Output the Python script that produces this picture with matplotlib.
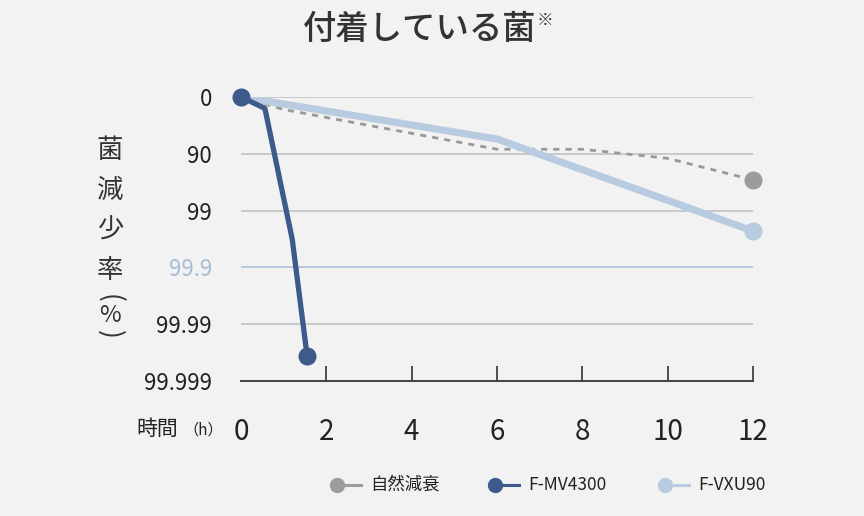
import matplotlib
matplotlib.use("Agg")
import matplotlib.pyplot as plt
from matplotlib.lines import Line2D

plt.rcParams['font.family'] = ['Noto Sans CJK JP', 'DejaVu Sans']

# log reduction: 0 -> 0%, 1 -> 90%, 2 -> 99%, ...
y_ticks = [0, 1, 2, 3, 4, 5]
y_labels = ['0', '90', '99', '99.9', '99.99', '99.999']
x_ticks = [0, 2, 4, 6, 8, 10, 12]

natural_t = [0, 1, 6, 8, 10, 12]
natural_v = [0, 0.22, 0.92, 0.92, 1.08, 1.46]

mv_t = [0, 0.56, 1.2, 1.55]
mv_v = [0, 0.2, 2.5, 4.56]

vxu_t = [0, 6, 12]
vxu_v = [0, 0.74, 2.36]

names = ['自然減衰', 'F-MV4300', 'F-VXU90']
colors = ['#9c9c9c', '#3d5a8b', '#b9cbe0']

bg = '#f2f2f2'
fig = plt.figure(figsize=(8.64, 5.16), dpi=100, facecolor=bg)
ax = fig.add_axes([241/864, 1-381/516, 512/864, 284/516], facecolor=bg)

ax.set_xlim(0, 12)
ax.set_ylim(5, 0)

for v in y_ticks[:-1]:
    c = '#b7c8de' if v == 3 else '#c9c9c9'
    ax.axhline(v, color=c, lw=1.4, zorder=1)

ax.plot(natural_t, natural_v, color='#999999', lw=2.0, ls=(0, (2.2, 2.2)), zorder=2)
ax.plot(vxu_t, vxu_v, color=colors[2], lw=5.2, zorder=3, solid_joinstyle='round')
ax.plot(mv_t, mv_v, color=colors[1], lw=3.8, zorder=4, solid_joinstyle='round')

ax.plot(natural_t[-1], natural_v[-1], 'o', color=colors[0], ms=12, zorder=5, clip_on=False)
ax.plot(vxu_t[-1], vxu_v[-1], 'o', color=colors[2], ms=12, zorder=5, clip_on=False)
ax.plot([mv_t[0], mv_t[-1]], [mv_v[0], mv_v[-1]], 'o', color=colors[1], ms=12, zorder=6, clip_on=False)

for s in ['top', 'right', 'left']:
    ax.spines[s].set_visible(False)
ax.spines['bottom'].set_color('#333333')
ax.spines['bottom'].set_linewidth(1.3)

ax.set_xticks(x_ticks)
ax.set_xticklabels([str(t) for t in x_ticks], fontsize=20, color='#222222')
ax.tick_params(axis='x', direction='in', length=11, width=1.2, color='#333333', pad=26)
ax.xaxis.get_major_ticks()[0].tick1line.set_visible(False)

ax.set_yticks(y_ticks)
ax.set_yticklabels(y_labels, fontsize=16, color='#222222')
ax.tick_params(axis='y', length=0, pad=21)
ax.get_yticklabels()[3].set_color('#a9bcd6')

fig.text(420/864, 1-30/516, '付着している菌', fontsize=24, fontweight='medium',
         ha='center', va='center', color='#333333')
fig.text(537/864, 1-20/516, '※', fontsize=12, ha='left', va='center', color='#333333')

# vertical y label
ylab = ['菌', '減', '少', '率']
for i, ch in enumerate(ylab):
    fig.text(110/864, 1-(150+40*i)/516, ch, fontsize=19, ha='center', va='center', color='#333333')
fig.text(110/864, 1-298/516, '(', fontsize=19, rotation=-90, ha='center', va='center', color='#333333')
fig.text(110/864, 1-316/516, '%', fontsize=17, ha='center', va='center', color='#333333')
fig.text(110/864, 1-334/516, ')', fontsize=19, rotation=-90, ha='center', va='center', color='#333333')

fig.text(136/864, 1-429/516, '時間', fontsize=15, ha='left', va='center', color='#222222')
fig.text(183/864, 1-430/516, '（h）', fontsize=11, ha='left', va='center', color='#222222')

# legend
leg_x = [337, 495, 665]
for x0, c, n in zip(leg_x, colors, names):
    fig.add_artist(Line2D([x0/864, (x0+24)/864], [1-485/516]*2, color=c, lw=2.2))
    fig.add_artist(Line2D([x0/864], [1-485/516], marker='o', ms=10, color=c, lw=0))
    fig.text((x0+33)/864, 1-485/516, n, fontsize=12.5, ha='left', va='center', color='#222222')

fig.savefig('out.png', dpi=100, facecolor=bg)
